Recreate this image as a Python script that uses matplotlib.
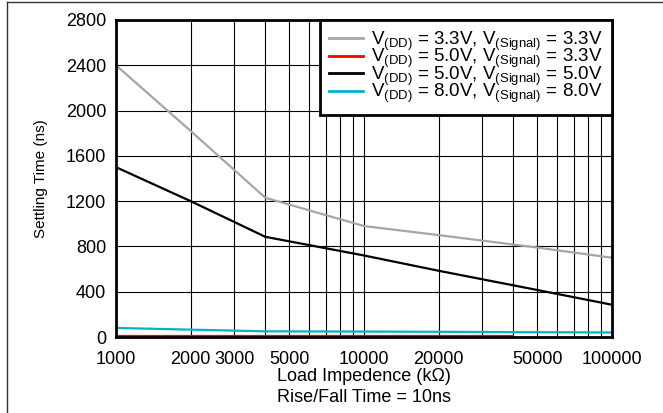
import numpy as np
import matplotlib
matplotlib.use('Agg')
import matplotlib.pyplot as plt
from matplotlib.lines import Line2D

plt.rcParams['font.family'] = ['Liberation Sans', 'DejaVu Sans']
plt.rcParams['mathtext.fontset'] = 'custom'
plt.rcParams['mathtext.rm'] = 'Liberation Sans'
plt.rcParams['mathtext.it'] = 'Liberation Sans'

# Data
load_k = [1000, 2000, 4000, 10000, 20000, 50000, 100000]
vdd33_sig33 = [2400, 1820, 1230, 980, 900, 790, 700]
vdd50_sig50 = [1500, 1200, 885, 720, 585, 415, 285]
vdd80_sig80 = [80, 65, 50, 48, 46, 42, 40]

load_red = [1000, 40000]
vdd50_sig33 = [12, 12]

grid_x = [1000, 2000, 3000, 4000, 5000, 6000, 7000, 8000, 9000,
          10000, 20000, 30000, 40000, 50000, 60000, 70000, 80000, 90000, 100000]
labeled_x = [1000, 2000, 3000, 5000, 10000, 20000, 50000, 100000]
y_ticks = [0, 400, 800, 1200, 1600, 2000, 2400, 2800]

labels = [
    r'V$_\mathrm{(DD)}$ = 3.3V, V$_\mathrm{(Signal)}$ = 3.3V',
    r'V$_\mathrm{(DD)}$ = 5.0V, V$_\mathrm{(Signal)}$ = 3.3V',
    r'V$_\mathrm{(DD)}$ = 5.0V, V$_\mathrm{(Signal)}$ = 5.0V',
    r'V$_\mathrm{(DD)}$ = 8.0V, V$_\mathrm{(Signal)}$ = 8.0V',
]
colors = ['#a6a6a6', '#ff0000', '#000000', '#00b4c8']

fig = plt.figure(figsize=(6.63, 4.13), dpi=100)
ax = fig.add_axes([116/663, 1-337/413, (612-116)/663, (337-20)/413])

ax.plot(load_k, vdd33_sig33, color=colors[0], lw=1.6, zorder=3)
ax.plot(load_red, vdd50_sig33, color=colors[1], lw=1.6, zorder=3)
ax.plot(load_k, vdd50_sig50, color=colors[2], lw=1.6, zorder=3)
ax.plot(load_k, vdd80_sig80, color=colors[3], lw=1.6, zorder=3)

ax.set_xscale('log')
ax.set_xlim(1000, 100000)
ax.set_ylim(0, 2800)
ax.set_xticks(grid_x)
ax.set_xticklabels([str(v) if v in labeled_x else '' for v in grid_x])
ax.xaxis.set_minor_locator(matplotlib.ticker.NullLocator())
ax.set_yticks(y_ticks)
ax.tick_params(axis='both', length=0, labelsize=13)
ax.tick_params(axis='x', pad=10)
ax.tick_params(axis='y', pad=7)
ax.grid(True, color='black', linewidth=0.8)
for s in ax.spines.values():
    s.set_linewidth(2)
    s.set_zorder(5)

ax.set_ylabel('Settling Time (ns)', fontsize=11, labelpad=13)
ax.set_xlabel('Load Impedence (k\u03a9)', fontsize=13, labelpad=0)
fig.text(0.549, 1-397/413, 'Rise/Fall Time = 10ns', fontsize=13,
         ha='center', va='center')

handles = [Line2D([0], [0], color=c, lw=2) for c in colors]
leg = ax.legend(handles, labels, loc='upper right', borderaxespad=0,
                fontsize=13.5, fancybox=False, framealpha=1, edgecolor='black',
                labelspacing=-0.3, handlelength=1.8, handletextpad=0.45,
                borderpad=0.5)
leg.get_frame().set_linewidth(2)
leg.set_zorder(6)

# figure border (left and top edges)
fig.add_artist(Line2D([7/663, 7/663], [0, 1-2/413], color='#333333', lw=1))
fig.add_artist(Line2D([7/663, 1], [1-2/413, 1-2/413], color='#333333', lw=1))

fig.savefig('out.png', dpi=100)
